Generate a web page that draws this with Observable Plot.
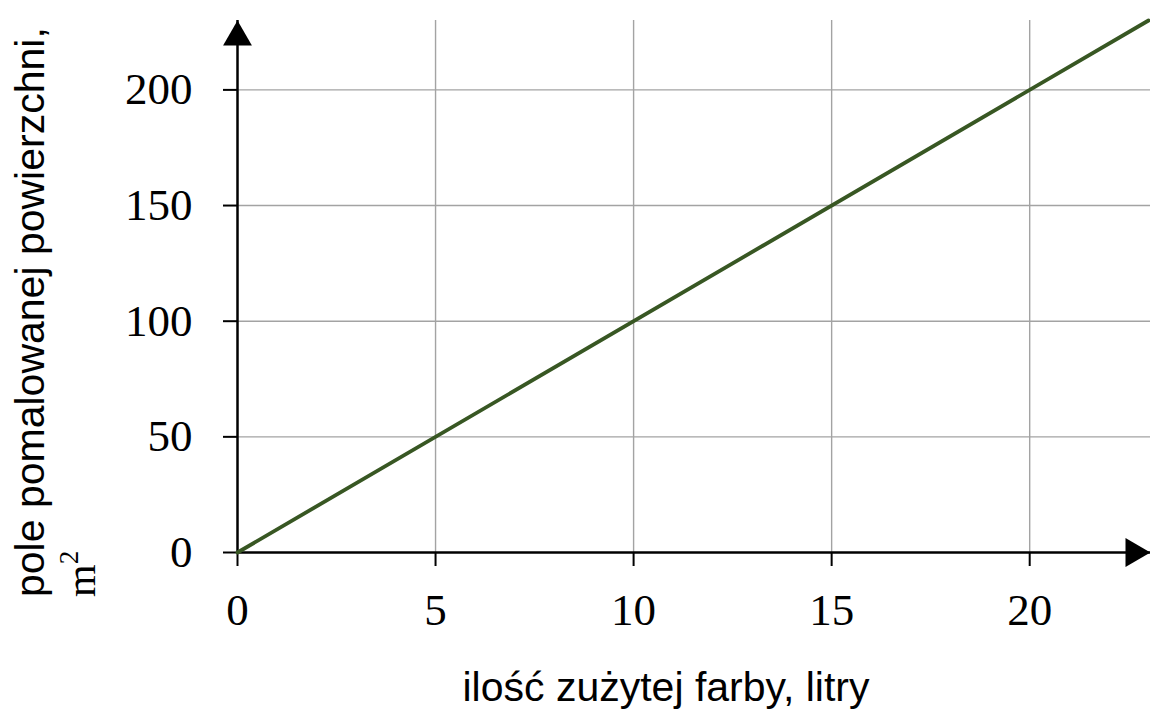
<!DOCTYPE html>
<html>
<head>
<meta charset="utf-8">
<script src="https://cdn.jsdelivr.net/npm/d3@7"></script>
<script src="https://cdn.jsdelivr.net/npm/@observablehq/plot@0.6"></script>
<style>
  html, body { margin: 0; padding: 0; background: #fff; }
  #chart svg { display: block; }
</style>
</head>
<body>
<div id="chart"></div>
<script>
// Data
const litres = [0, 23];
const area = [0, 230];
const xTicks = [0, 5, 10, 15, 20];
const yTicks = [0, 50, 100, 150, 200];
const xLabel = "ilość zużytej farby, litry";
const yLabel1 = "pole pomalowanej powierzchni,";
const yLabel2 = "m";

const lineData = litres.map((x, i) => ({x, y: area[i]}));
const xMax = 23.05, yMax = 230;

const plot = Plot.plot({
  width: 1150,
  height: 709,
  marginLeft: 237,
  marginRight: 0,
  marginTop: 20,
  marginBottom: 157,
  style: {background: "#fff", overflow: "visible"},
  x: {domain: [0, xMax]},
  y: {domain: [0, yMax]},
  marks: [
    Plot.gridX(xTicks.filter(d => d > 0), {stroke: "#a3a3a3", strokeOpacity: 1, strokeWidth: 1.4}),
    Plot.gridY(yTicks.filter(d => d > 0), {stroke: "#a3a3a3", strokeOpacity: 1, strokeWidth: 1.4}),
    Plot.axisX(xTicks, {tickSize: 14, tickPadding: 27, fontSize: 45, fontFamily: "Liberation Serif", strokeWidth: 2, stroke: "#000", fill: "#000", label: null}),
    Plot.axisY(yTicks, {tickSize: 14, tickPadding: 31, fontSize: 45, fontFamily: "Liberation Serif", strokeWidth: 2, stroke: "#000", fill: "#000", label: null}),
    Plot.ruleY([0], {stroke: "#000", strokeWidth: 2.5}),
    Plot.ruleX([0], {stroke: "#000", strokeWidth: 2.5}),
    Plot.line(lineData, {x: "x", y: "y", stroke: "#385723", strokeWidth: 3.8}),
    Plot.dot([{x: 0, y: yMax}], {x: "x", y: "y", symbol: "triangle", r: 10.7, fill: "#000", stroke: null, dy: 16.7}),
    Plot.dot([{x: xMax, y: 0}], {x: "x", y: "y", symbol: "triangle", r: 10.7, fill: "#000", stroke: null, rotate: 90, dx: -16.7})
  ]
});

document.getElementById("chart").appendChild(plot);

const svg = d3.select(plot);
svg.append("text")
  .attr("x", 666).attr("y", 701)
  .attr("text-anchor", "middle")
  .attr("font-family", "Liberation Sans, Arial, sans-serif")
  .attr("font-size", 41)
  .attr("fill", "#000")
  .text(xLabel);

svg.append("text")
  .attr("transform", "translate(44,597) rotate(-90)")
  .attr("text-anchor", "start")
  .attr("font-family", "Liberation Sans, Arial, sans-serif")
  .attr("font-size", 41)
  .attr("fill", "#000")
  .text(yLabel1);

const t2 = svg.append("text")
  .attr("transform", "translate(95,597) rotate(-90)")
  .attr("text-anchor", "start")
  .attr("font-family", "Liberation Serif, serif")
  .attr("font-size", 42)
  .attr("fill", "#000");
t2.append("tspan").text(yLabel2);
t2.append("tspan").attr("font-size", 27).attr("dy", -17).text("2");
</script>
</body>
</html>
